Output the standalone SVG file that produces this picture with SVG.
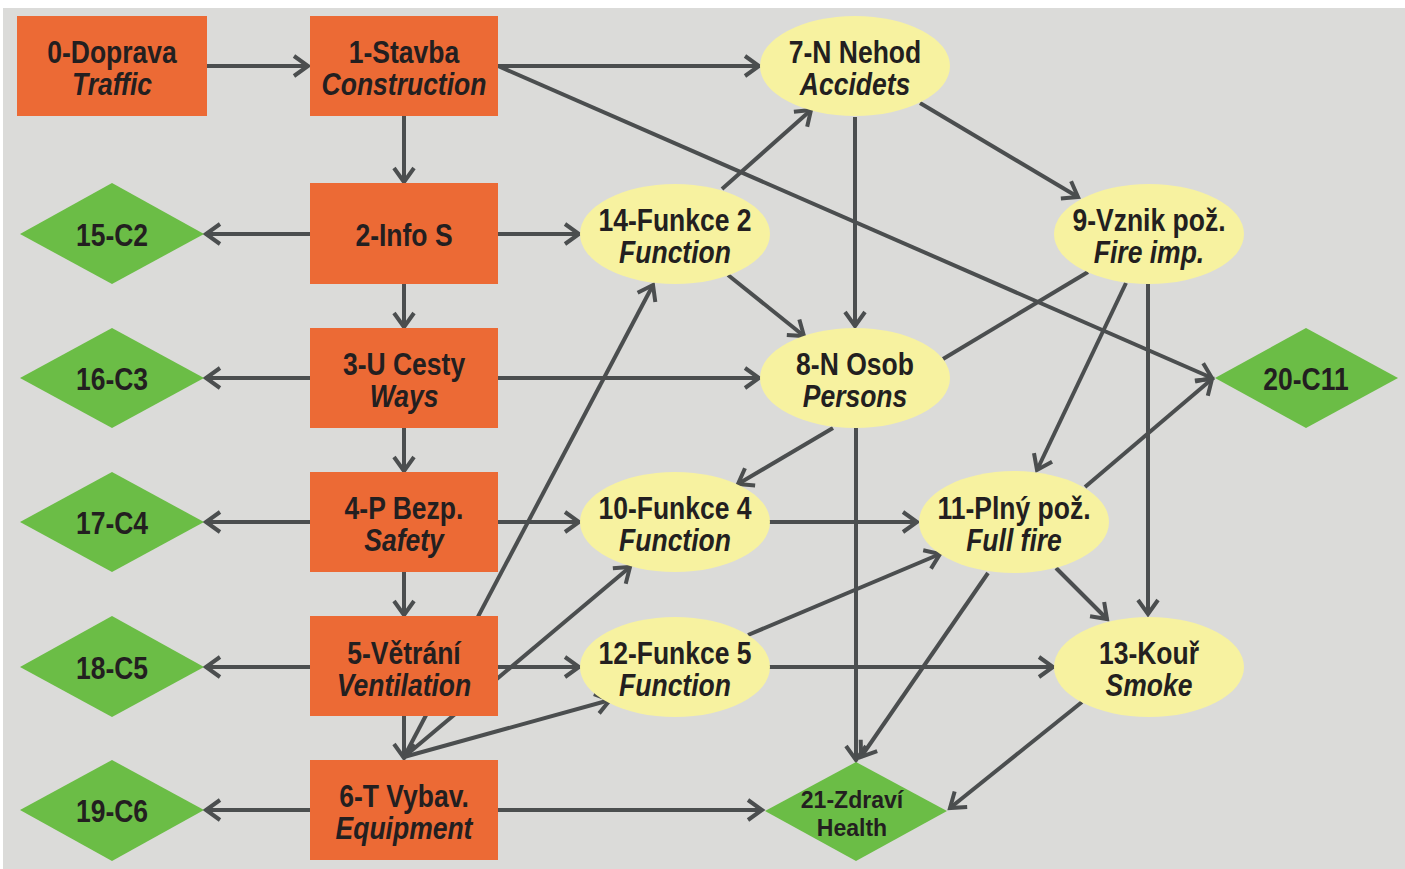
<svg xmlns="http://www.w3.org/2000/svg" width="1405" height="869" viewBox="0 0 1405 869">
<style>
.box{fill:#ec6a35}
.ell{fill:#f7f2a0}
.dia{fill:#6bbd46}
text{font-family:"Liberation Sans",Arial,sans-serif;font-weight:bold;font-size:31px;fill:#231f20;text-anchor:middle}
.it{font-style:italic}
.sm{font-size:24px}
.edges line{stroke:#4b4e4f;stroke-width:4;fill:none}
.arr{marker-end:url(#ah)}
</style>
<defs>
<marker id="ah" markerUnits="userSpaceOnUse" viewBox="-20 -15 25 30" refX="0" refY="0" markerWidth="25" markerHeight="30" orient="auto" overflow="visible">
<path d="M-14,-10 L0,0 L-14,10" fill="none" stroke="#4b4e4f" stroke-width="4"/>
</marker>
</defs>
<rect x="3" y="8" width="1402" height="861" fill="#dbdbd9"/>
<g class="edges">
<line class="arr" x1="207" y1="66" x2="308" y2="66"/>
<line class="arr" x1="498" y1="66" x2="759" y2="66"/>
<line class="arr" x1="498" y1="66" x2="1212" y2="378"/>
<line class="arr" x1="404" y1="116" x2="404" y2="182"/>
<line class="arr" x1="310" y1="234" x2="206" y2="234"/>
<line class="arr" x1="498" y1="234" x2="579" y2="234"/>
<line class="arr" x1="404" y1="284" x2="404" y2="327"/>
<line class="arr" x1="310" y1="378" x2="206" y2="378"/>
<line class="arr" x1="498" y1="378" x2="759" y2="378"/>
<line class="arr" x1="404" y1="428" x2="404" y2="471"/>
<line class="arr" x1="310" y1="522" x2="206" y2="522"/>
<line class="arr" x1="498" y1="522" x2="579" y2="522"/>
<line class="arr" x1="404" y1="572" x2="404" y2="615"/>
<line class="arr" x1="310" y1="667" x2="206" y2="667"/>
<line class="arr" x1="498" y1="667" x2="579" y2="667"/>
<line class="arr" x1="404" y1="716" x2="404" y2="758"/>
<line class="arr" x1="310" y1="810" x2="206" y2="810"/>
<line class="arr" x1="498" y1="810" x2="762" y2="810"/>
<line class="arr" x1="404" y1="757" x2="653" y2="285"/>
<line class="arr" x1="404" y1="757" x2="630" y2="567"/>
<line class="arr" x1="404" y1="757" x2="610" y2="700"/>
<line class="arr" x1="722" y1="189" x2="811" y2="110"/>
<line class="arr" x1="728" y1="275" x2="804" y2="336"/>
<line class="arr" x1="855" y1="117" x2="855" y2="326"/>
<line class="arr" x1="920" y1="103" x2="1078" y2="197"/>
<line class="arr" x1="833" y1="428" x2="738" y2="484"/>
<line class="arr" x1="856" y1="428" x2="856" y2="760"/>
<line x1="943" y1="359" x2="1088" y2="272"/>
<line class="arr" x1="1126" y1="283" x2="1037" y2="470"/>
<line class="arr" x1="1148" y1="284" x2="1148" y2="614"/>
<line class="arr" x1="769" y1="522" x2="917" y2="522"/>
<line class="arr" x1="748" y1="635" x2="940" y2="554"/>
<line class="arr" x1="769" y1="667" x2="1053" y2="667"/>
<line class="arr" x1="1085" y1="487" x2="1212" y2="379"/>
<line class="arr" x1="1056" y1="568" x2="1107" y2="619"/>
<line class="arr" x1="988" y1="573" x2="861" y2="757"/>
<line class="arr" x1="1082" y1="702" x2="950" y2="808"/>
</g>
<g id="n0"><rect class="box" x="17" y="16" width="190" height="100"/><g transform="translate(112,0) scale(0.855,1)"><text x="0" y="63">0-Doprava</text><text class="it" x="0" y="95">Traffic</text></g></g>
<g id="n1"><rect class="box" x="310" y="16" width="188" height="100"/><g transform="translate(404,0) scale(0.855,1)"><text x="0" y="63">1-Stavba</text><text class="it" x="0" y="95">Construction</text></g></g>
<g id="n2"><rect class="box" x="310" y="183" width="188" height="101"/><g transform="translate(404,0) scale(0.855,1)"><text x="0" y="246">2-Info S</text></g></g>
<g id="n3"><rect class="box" x="310" y="328" width="188" height="100"/><g transform="translate(404,0) scale(0.855,1)"><text x="0" y="375">3-U Cesty</text><text class="it" x="0" y="407">Ways</text></g></g>
<g id="n4"><rect class="box" x="310" y="472" width="188" height="100"/><g transform="translate(404,0) scale(0.855,1)"><text x="0" y="519">4-P Bezp.</text><text class="it" x="0" y="551">Safety</text></g></g>
<g id="n5"><rect class="box" x="310" y="616" width="188" height="100"/><g transform="translate(404,0) scale(0.855,1)"><text x="0" y="664">5-Větrání</text><text class="it" x="0" y="696">Ventilation</text></g></g>
<g id="n6"><rect class="box" x="310" y="760" width="188" height="100"/><g transform="translate(404,0) scale(0.855,1)"><text x="0" y="807">6-T Vybav.</text><text class="it" x="0" y="839">Equipment</text></g></g>
<g id="n7"><ellipse class="ell" cx="855" cy="66" rx="95" ry="50"/><g transform="translate(855,0) scale(0.855,1)"><text x="0" y="63">7-N Nehod</text><text class="it" x="0" y="95">Accidets</text></g></g>
<g id="n8"><ellipse class="ell" cx="855" cy="378" rx="95" ry="50"/><g transform="translate(855,0) scale(0.855,1)"><text x="0" y="375">8-N Osob</text><text class="it" x="0" y="407">Persons</text></g></g>
<g id="n9"><ellipse class="ell" cx="1149" cy="234" rx="95" ry="50"/><g transform="translate(1149,0) scale(0.855,1)"><text x="0" y="231">9-Vznik pož.</text><text class="it" x="0" y="263">Fire imp.</text></g></g>
<g id="n10"><ellipse class="ell" cx="675" cy="522" rx="95" ry="50"/><g transform="translate(675,0) scale(0.855,1)"><text x="0" y="519">10-Funkce 4</text><text class="it" x="0" y="551">Function</text></g></g>
<g id="n11"><ellipse class="ell" cx="1014" cy="522" rx="95" ry="51"/><g transform="translate(1014,0) scale(0.855,1)"><text x="0" y="519">11-Plný pož.</text><text class="it" x="0" y="551">Full fire</text></g></g>
<g id="n12"><ellipse class="ell" cx="675" cy="667" rx="95" ry="50"/><g transform="translate(675,0) scale(0.855,1)"><text x="0" y="664">12-Funkce 5</text><text class="it" x="0" y="696">Function</text></g></g>
<g id="n13"><ellipse class="ell" cx="1149" cy="667" rx="95" ry="50"/><g transform="translate(1149,0) scale(0.855,1)"><text x="0" y="664">13-Kouř</text><text class="it" x="0" y="696">Smoke</text></g></g>
<g id="n14"><ellipse class="ell" cx="675" cy="234" rx="95" ry="50"/><g transform="translate(675,0) scale(0.855,1)"><text x="0" y="231">14-Funkce 2</text><text class="it" x="0" y="263">Function</text></g></g>
<g id="n15"><polygon class="dia" points="20,234 112,183 204,234 112,284"/><g transform="translate(112,0) scale(0.855,1)"><text x="0" y="246">15-C2</text></g></g>
<g id="n16"><polygon class="dia" points="20,378 112,328 204,378 112,428"/><g transform="translate(112,0) scale(0.855,1)"><text x="0" y="390">16-C3</text></g></g>
<g id="n17"><polygon class="dia" points="20,522 112,472 204,522 112,572"/><g transform="translate(112,0) scale(0.855,1)"><text x="0" y="534">17-C4</text></g></g>
<g id="n18"><polygon class="dia" points="20,667 112,616 204,667 112,717"/><g transform="translate(112,0) scale(0.855,1)"><text x="0" y="679">18-C5</text></g></g>
<g id="n19"><polygon class="dia" points="20,810 112,760 204,810 112,861"/><g transform="translate(112,0) scale(0.855,1)"><text x="0" y="822">19-C6</text></g></g>
<g id="n20"><polygon class="dia" points="1215,378 1306,328 1398,378 1306,428"/><g transform="translate(1306,0) scale(0.855,1)"><text x="0" y="390">20-C11</text></g></g>
<g id="n21"><polygon class="dia" points="765,811 856,762 947,811 856,861"/><g transform="translate(852,0) scale(0.96,1)"><text class="sm" x="0" y="808">21-Zdraví</text><text class="sm" x="0" y="836">Health</text></g></g>
</svg>
